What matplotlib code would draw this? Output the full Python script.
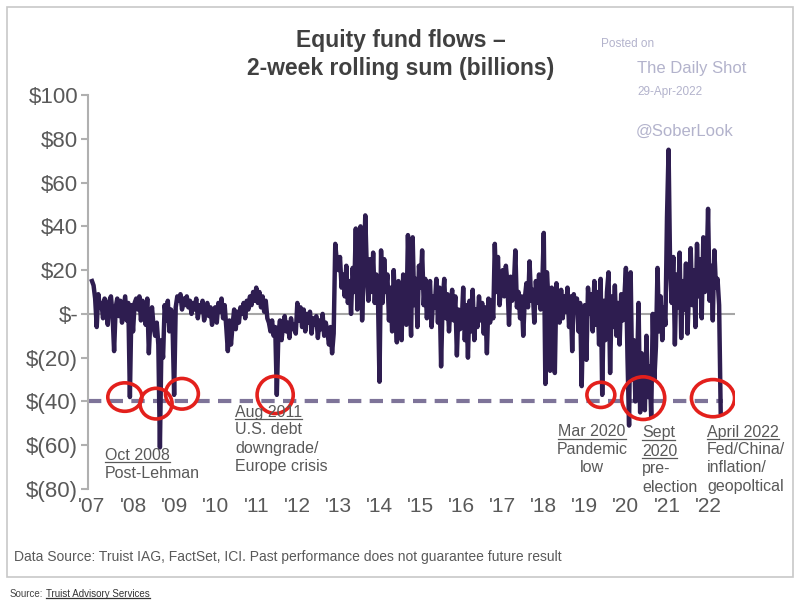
import numpy as np
import matplotlib
matplotlib.use("Agg")
import matplotlib.pyplot as plt
from matplotlib.patches import Ellipse, Rectangle
from matplotlib.lines import Line2D

plt.rcParams['font.family'] = ['Liberation Sans', 'DejaVu Sans']

# fortnightly readings of the 2-week rolling sum, $bn, one list per year
flows_2007 = [15, 13, 7, -6, 9, 3, 5, -2, 7, 2, -5, 6, 8, 0, -17, 3, 7, -1, 6, -4, 2, 8, -3, 5, -38, 4]
flows_2008 = [-8, 5, 7, 2, 8, -3, 6, 4, -5, 7, -18, -2, 3, -6, -10, -4, -14, -61, -12, -20, 4, -3, 6, -8, 2, -5]
flows_2009 = [-37, 3, 8, 6, 9, 2, 7, 4, 8, 3, 6, 0, 5, 2, 7, -2, 4, 1, 6, -3, 2, 5, -1, 3, -5, 2]
flows_2010 = [3, -4, 5, 1, 7, -2, 4, -6, -17, -3, -14, -5, 2, -7, 1, -4, 3, 0, 5, -2, 6, 2, 8, 4, 10, 6]
flows_2011 = [12, 5, 10, 3, 8, 1, 6, -2, -4, -8, -3, -10, -6, -37, -9, -3, -12, -5, -1, -8, -4, -11, -2, -7, -5, -9]
flows_2012 = [5, -3, 3, -6, 2, -8, 0, -4, 1, -9, -2, -5, -1, -11, -3, -7, 0, -10, -4, -8, -14, -6, -18, -9, 32, 24]
flows_2013 = [20, 26, 12, 18, 8, 22, 5, 15, 0, 21, 10, 39, 2, 14, 40, -3, 18, 45, 20, 6, 25, 10, 28, 5, 18, 9]
flows_2014 = [-31, 29, 5, 25, 10, 18, -3, 12, -8, 20, 2, -13, 15, 4, -12, 18, 6, -5, 36, 8, -10, 35, 4, 16, -6, 22]
flows_2015 = [12, 29, 4, 16, -2, 10, 15, -6, 8, 3, 16, -4, 12, -24, 6, 16, -2, 9, -8, 4, 11, -3, 8, -19, 2, -7]
flows_2016 = [-5, 12, -12, 4, -20, 6, -8, 11, -12, 2, -6, 8, -3, 5, -9, 3, -18, 7, -4, 6, -2, 32, 10, 26, 4, 13]
flows_2017 = [20, 8, 22, 14, -5, 17, 6, 12, 29, 3, 10, -2, 8, -10, 7, 14, 3, 24, 6, 11, -4, 15, 5, 18, 2, 12]
flows_2018 = [37, -32, 19, 6, -26, 12, 3, -27, 14, 5, -4, 11, -2, 8, 1, 12, -6, 8, -17, 9, 3, 7, -8, 5, -33, 2]
flows_2019 = [4, -21, 12, 0, 9, -8, 15, -5, 10, -14, 16, -37, 6, -12, 10, 19, -27, 8, -6, 13, -10, 5, -14, 9, -3, 7]
flows_2020 = [21, -20, -51, 19, -30, -12, -40, -28, 5, -45, -18, -32, -44, -10, -38, -24, -47, 0, -30, -15, 21, -8, 8, -12, 3, -5]
flows_2021 = [44, 75, 20, 5, 26, -14, 18, 3, 28, -11, 15, 2, 23, -9, 12, 30, 4, 20, -6, 32, 8, 25, -2, 35, 10, 18]
flows_2022 = [48, 6, 22, -3, 29, 12, 16, 4, -45]

years = list(range(2007, 2023))
yearly = [flows_2007, flows_2008, flows_2009, flows_2010, flows_2011, flows_2012,
          flows_2013, flows_2014, flows_2015, flows_2016, flows_2017, flows_2018,
          flows_2019, flows_2020, flows_2021, flows_2022]

yticks = [100, 80, 60, 40, 20, 0, -20, -40, -60, -80]
ytick_labels = ["$100", "$80", "$60", "$40", "$20", "$-", "$(20)", "$(40)", "$(60)", "$(80)"]
xtick_labels = ["'%02d" % (y % 100) for y in years]

threshold = -40

# circled events: (year position, value, width in years, height in $bn)
circles = [(2007.80, -38, 0.83, 13), (2008.56, -41, 0.78, 14), (2009.19, -36.5, 0.80, 14),
           (2011.46, -37, 0.88, 17), (2019.39, -37, 0.68, 11.5), (2020.42, -38.5, 1.05, 19.5),
           (2022.12, -38.5, 1.05, 17)]

x = []
vals = []
for yr, seq in zip(years, yearly):
    for i, v in enumerate(seq):
        x.append(yr + i / 26)
        vals.append(v)

W, H = 800, 607
fig = plt.figure(figsize=(W / 100, H / 100), dpi=100)

def fx(px):
    return px / W

def fy(py):
    return 1 - py / H

# frame around the chart
fig.add_artist(Rectangle((fx(7), fy(577)), fx(793) - fx(7), fy(7) - fy(577),
                         transform=fig.transFigure, fill=False, ec="#c8c8c8", lw=1.2))

ax = fig.add_axes([fx(88), fy(489), fx(735) - fx(88), fy(95) - fy(489)])
ax.set_xlim(2006.903, 2022.656)
ax.set_ylim(-80, 100)

ax.axhline(0, color="#a6a6a6", lw=1.5, zorder=1)
ax.plot([2006.903, 2022.36], [threshold, threshold], color="#7e7499", lw=3,
        dashes=(3.2, 2.0), zorder=2)
ax.plot(x, vals, color="#2e1d50", lw=3.2, solid_joinstyle="round", zorder=3)

for cx, cy, w, h in circles:
    ax.add_patch(Ellipse((cx, cy), w, h, fill=False, ec="#e3201c", lw=2.6, zorder=4))

for s in ["top", "right", "bottom"]:
    ax.spines[s].set_visible(False)
ax.spines["left"].set_color("#b0b0b0")
ax.spines["left"].set_linewidth(1.5)

ax.set_yticks(yticks)
ax.set_yticklabels(ytick_labels)
ax.set_xticks(years)
ax.set_xticklabels(xtick_labels)
ax.tick_params(axis="y", length=5, color="#b0b0b0", width=1.5, labelsize=16,
               labelcolor="#595959", pad=2)
ax.tick_params(axis="x", length=0, labelsize=15, labelcolor="#595959", pad=6)

# title
fig.text(fx(401), fy(40), "Equity fund flows \u2013", ha="center", va="center",
         fontsize=16.5, fontweight="bold", color="#404040")
fig.text(fx(401), fy(69), "2-week rolling sum (billions)", ha="center", va="center",
         fontsize=16.5, fontweight="bold", color="#404040")

# watermark
wm = "#b3b3cc"
fig.text(fx(601), fy(44), "Posted on", fontsize=8.5, color=wm, va="center")
fig.text(fx(637), fy(68), "The Daily Shot", fontsize=12, color=wm, va="center")
fig.text(fx(637), fy(92), "29-Apr-2022", fontsize=8.5, color=wm, va="center")
fig.text(fx(636), fy(131), "@SoberLook", fontsize=12, color=wm, va="center")

# annotations: (x px, first line y px, alignment, lines, underlined line count)
notes = [
    (105, 455, "left", ["Oct 2008", "Post-Lehman"], 1),
    (235, 412, "left", ["Aug 2011", "U.S. debt", "downgrade/", "Europe crisis"], 1),
    (592, 432, "center", ["Mar 2020", "Pandemic", "low"], 1),
    (642, 433, "left", ["Sept", "2020", "pre-", "election"], 2),
    (707, 432, "left", ["April 2022", "Fed/China/", "inflation/", "geopoltical"], 1),
]
underlined = []
for px, py, ha, lines, n_ul in notes:
    for k, line in enumerate(lines):
        t = fig.text(fx(px), fy(py + k * 18), line, ha=ha, va="center",
                     fontsize=11.5, color="#595959")
        if k < n_ul:
            underlined.append(t)

fig.text(fx(14), fy(557), "Data Source: Truist IAG, FactSet, ICI. Past performance does not guarantee future result",
         fontsize=10, color="#595959", va="center")
lead = fig.text(fx(10), fy(594), "Source:", fontsize=7, color="#444444", va="center")
src = fig.text(fx(44), fy(594), "Truist Advisory Services", fontsize=7, color="#333333", va="center")

fig.canvas.draw()
r = fig.canvas.get_renderer()
inv = fig.transFigure.inverted()
lead_bb = lead.get_window_extent(r)
src.set_x(inv.transform((lead_bb.x1 + 3, 0))[0])
fig.canvas.draw()
underlined.append(src)

for t in underlined:
    bb = t.get_window_extent(r)
    (x0, y0), (x1, _) = inv.transform([(bb.x0, bb.y0 + 1), (bb.x1, bb.y0 + 1)])
    fig.add_artist(Line2D([x0, x1], [y0, y0], transform=fig.transFigure,
                          color=t.get_color(), lw=0.9))

fig.savefig("out.png", dpi=100)
